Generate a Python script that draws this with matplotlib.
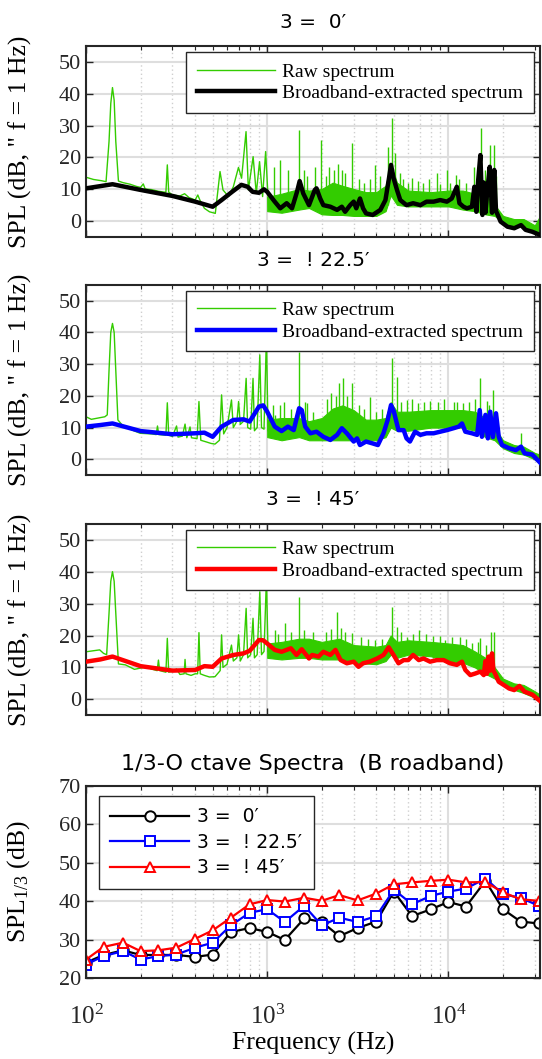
import numpy as np
import matplotlib.pyplot as plt
from matplotlib.ticker import LogLocator, NullFormatter
from matplotlib.lines import Line2D

plt.rcParams['font.family'] = 'Liberation Serif'
plt.rcParams['mathtext.fontset'] = 'custom'
plt.rcParams['mathtext.rm'] = 'Liberation Serif'
plt.rcParams['mathtext.it'] = 'Liberation Serif:italic'

# ---------------- narrowband data, theta = 0 ----------------
raw0_f = [100, 110, 122, 129, 134, 137, 140, 143, 146, 151, 160, 175, 190, 200, 207, 212,
          230, 250, 270, 276, 281, 286, 300, 330, 350, 370, 400, 414, 425, 450, 480, 517,
          549, 570, 612, 650, 694, 722, 764, 787, 836, 870, 907, 943, 980, 1017]
raw0_db = [13.7, 13.0, 12.6, 12.3, 25, 37, 42, 38, 25, 12.5, 12, 11.5, 10.8, 10.5, 11.6, 10,
           9.8, 9.3, 9, 9, 17.6, 9, 8.1, 7.8, 8.5, 7.3, 6.5, 8.1, 6.5, 3.9, 2.8, 2.3,
           15.5, 9.7, 7.6, 10.7, 16.8, 13.4, 28.1, 9.7, 20.2, 8.6, 18.6, 7.6, 21.8, 4.4]
band0_f = [1000, 1200, 1500, 1700, 2000, 2300, 2600, 3000, 3500, 4000, 4500, 4800, 5200,
           6000, 8000, 10000, 12000, 14000, 16000, 18000, 20000, 23000, 26000, 30000, 32000]
band0_lo = [3, 2.5, 3.5, 4, 2, 1.8, 1.8, 1.5, 1.5, 1.5, 3, 8, 5,
            4.5, 4.5, 4.5, 3.5, 3, 2, 1.5, -0.5, -1.8, -1.8, -3.5, -4]
band0_hi = [7.5, 8.5, 10, 9.5, 10, 12, 11, 10, 9, 9, 11, 18, 12,
            9.5, 9, 9.5, 9.5, 8.5, 8, 5, 1.5, 0.5, 0.5, -1.5, 1.5]
spike0_f = [1090, 1180, 1300, 1494, 1590, 1650, 1830, 1980, 2100, 2200, 2350, 2450, 2580,
            2700, 2930, 3200, 3400, 3700, 3950, 4200, 4620, 4870, 5090, 5420, 5600, 6000,
            6300, 6770, 7200, 7800, 8600, 9000, 9800, 10200, 11030, 11500, 12500, 13800,
            14500, 15200, 16000, 16500, 17000, 17900, 18300]
spike0_lo = [5, 4, 4, 8, 6, 5, 6, 6, 4, 4, 4, 4, 5,
             4, 5, 4, 4, 4, 3, 4, 5, 10, 8, 6, 6, 6,
             6, 6, 6, 6, 6, 6, 6, 6, 6, 6, 5, 5,
             4, 5, 4, 4, 4, 4, 3]
spike0_hi = [17, 19, 16, 28.6, 16, 14, 17, 25.4, 14, 17, 16, 18, 16,
             15, 24.4, 13, 12, 13, 17.6, 14, 23.3, 32.3, 21.2, 15, 13, 12,
             13.5, 12.5, 12, 13, 15, 11.5, 16, 12, 14.4, 13, 12, 17,
             13, 29.1, 16, 17, 23.9, 23.9, 14]
bb0_f = [100, 120, 140, 200, 300, 400, 500, 560, 640, 720, 780, 830, 900, 960, 1000, 1100,
         1180, 1280, 1370, 1460, 1510, 1580, 1700, 1830, 1870, 1960, 2040, 2230, 2430, 2580,
         2690, 2870, 3000, 3100, 3250, 3380, 3510, 3820, 4210, 4490, 4680, 4820, 4980, 5200,
         5420, 5870, 6380, 7000, 7570, 8280, 9000, 9800, 10430, 11120, 11500, 12100, 12640,
         13480, 13900, 14250, 14600, 15000, 15400, 15700, 16000, 16350, 16900, 17400, 17900,
         18300, 18550, 19400, 21150, 23060, 25140, 26640, 29000, 32000]
bb0_db = [10.2, 10.9, 11.5, 9.7, 7.8, 6.0, 4.4, 6.5, 9.1, 11.3, 10.7, 9.1, 8.8, 9.9, 9.1, 6.0,
          3.9, 5.5, 3.9, 9.1, 12.5, 8.6, 4.9, 9.7, 10.2, 7.0, 4.9, 4.4, 3.4, 4.4,
          2.8, 4.9, 6.0, 3.9, 7.0, 3.9, 2.3, 1.8, 3.4, 6.5, 12.8, 17.6, 13.4, 9.7,
          6.5, 4.9, 5.5, 4.9, 6.0, 6.0, 6.5, 6.0, 7.0, 10.7, 5.5, 4.4, 3.9,
          4.4, 10.7, 2.8, 13, 20.7, 1.8, 12, 2.5, 9, 17, 2.5, 16,
          3, 2.3, -0.3, -1.9, -2.4, -1.4, -2.9, -3.5, -4.5]

# ---------------- narrowband data, theta = -22.5 ----------------
raw22_f = [100, 107, 119, 127, 131, 134, 137, 140, 143, 146, 150, 160, 180, 199, 230, 244,
           248, 252, 276, 281, 286, 300, 316, 322, 340, 352, 360, 375, 382, 410, 420, 430,
           460, 490, 515, 545, 560, 575, 600, 635, 650, 680, 695, 710, 740, 765, 780, 810,
           835, 850, 880, 910, 930, 960, 990, 1010]
raw22_db = [13.4, 12.6, 13.1, 13.4, 14, 28, 40, 42.8, 40, 28, 12.4, 10.5, 9.2, 8.2, 8, 7.8,
            10.5, 7.8, 7.6, 17.8, 7.6, 7.2, 10.5, 7.0, 7.3, 11.1, 6.8, 10.2, 6.8, 6.5, 18.2, 6,
            5.5, 5, 4.8, 6, 20.3, 8, 10, 18.7, 10, 12, 18.2, 11, 12, 25.5, 10, 9.5,
            25.5, 9, 10, 32.9, 10, 9.5, 39, 9]
band22_f = [1000, 1200, 1500, 1700, 2000, 2300, 2600, 3000, 3500, 4000, 4500, 4800, 5200,
            6000, 8000, 10000, 12000, 14000, 16000, 18000, 20000, 23000, 26000, 30000, 32000]
band22_lo = [7, 6, 7, 6, 6, 6, 6, 6, 6, 6, 7, 10, 9,
             9, 10, 10, 10, 9, 7, 6, 3.5, 2, 1.5, 0, -1.5]
band22_hi = [12.5, 13, 13, 12, 13, 16, 17, 15.5, 12.5, 12.5, 13, 18, 15,
             15, 15.5, 15.5, 15.5, 15, 13, 10, 6, 4.5, 4, 2, 1.5]
spike22_f = [1070, 1100, 1180, 1240, 1350, 1490, 1620, 1650, 1800, 2150, 2250, 2400, 2500,
             2620, 2750, 2930, 3200, 3400, 3680, 4000, 4300, 4870, 5200, 5500, 5870, 6300,
             6770, 7300, 7900, 8800, 9400, 10670, 11200, 12100, 13000, 14000, 15000, 16350,
             16800, 17700, 25100]
spike22_lo = [8, 8, 7, 7, 7, 9, 8, 7, 7, 7, 7, 7, 8,
              8, 7, 8, 7, 7, 7, 7, 7, 12, 10, 10, 10, 10,
              10, 10, 10, 10, 10, 11, 10, 11, 10, 10, 10, 9,
              8, 9, 3]
spike22_hi = [17, 14, 17, 18, 16, 33.9, 18, 17.6, 15, 19, 21, 20, 23.9,
              25.5, 20, 23.9, 17, 16, 19.7, 15, 16, 31.8, 26, 18, 18.7, 19,
              17.6, 18, 18.5, 18, 19, 18.2, 18, 17.6, 18, 19, 25.5, 18.5,
              17, 21.8, 8.2]
bb22_f = [100, 120, 140, 200, 300, 400, 450, 500, 560, 650, 740, 800, 900, 950, 1000, 1100,
          1200, 1300, 1400, 1500, 1550, 1620, 1730, 1870, 2040, 2230, 2430, 2580, 2750, 3000,
          3130, 3250, 3510, 3820, 4080, 4380, 4620, 4820, 5000, 5300, 5660, 5870, 6130, 6540,
          7000, 7570, 8280, 9000, 9800, 10670, 11400, 11880, 12390, 13480, 14400, 14880, 15300,
          16000, 16500, 17000, 17600, 18300, 18950, 19750, 21600, 23560, 25140, 26300, 29000,
          32000]
bb22_db = [10.3, 10.8, 11.3, 8.9, 7.9, 8.2, 8.4, 7.1, 10.3, 12.4, 12.6, 11.9, 16.6, 17, 15.0, 10.3,
           8.9, 10.3, 9.2, 16.1, 15.5, 10.3, 8.2, 8.7, 7.1, 6.1, 7.7, 9.8, 8.2, 5.6,
           6.6, 4.5, 5.6, 5.0, 4.5, 8.2, 12.4, 17.1, 15, 9.2, 9.2, 6.6, 5.6, 8.7,
           7.7, 8.2, 8.2, 8.7, 9.2, 9.8, 10.3, 11.3, 8.7, 8.2, 7.7, 15.5, 7.1,
           14, 6.6, 15, 7, 14.5, 7.1, 4.5, 3.5, 2.9, 4, 1.9, 1.5,
           -1]

# ---------------- narrowband data, theta = -45 ----------------
raw45_f = [100, 119, 125, 130, 134, 137, 140, 143, 146, 151, 165, 185, 200, 216, 230, 247,
           251, 255, 276, 281, 286, 300, 316, 330, 348, 352, 356, 380, 400, 413, 420, 427,
           450, 480, 515, 550, 560, 570, 600, 635, 650, 680, 695, 710, 740, 765, 780, 810,
           835, 850, 880, 910, 930, 960, 990, 1010]
raw45_db = [14.9, 15.5, 14.4, 14, 27, 37, 40, 37, 27, 11.1, 10.8, 9.4, 9.8, 10.2, 9.5, 9,
            12.3, 9, 8.5, 19.1, 8.5, 8.8, 9.5, 7.8, 8, 12.5, 8, 7.5, 8, 8, 20.9, 8,
            7.5, 7, 7.1, 9, 20.2, 10, 11, 17, 12, 13, 20.2, 12, 14, 28.5, 13, 14,
            25.4, 13, 14, 33.7, 14, 15, 38, 15]
band45_f = [1000, 1200, 1500, 1700, 2000, 2500, 3000, 4000, 4500, 4800, 5200, 6000, 8000,
            10000, 12000, 14000, 16000, 18000, 20000, 23000, 26000, 30000, 32000]
band45_lo = [13, 12.5, 13, 13, 12.5, 12.5, 11.5, 11, 12, 14, 13, 14, 13.5,
             12, 11.5, 10, 8, 6.5, 4.5, 3, 2, 0.5, -1]
band45_hi = [17.5, 18, 19, 19, 18, 19, 17, 16.5, 17, 20, 18, 18.5, 18,
             17.5, 17, 15, 13, 10, 6.5, 5, 4.5, 2.5, 1.5]
spike45_f = [1100, 1150, 1250, 1350, 1490, 1590, 1800, 2100, 2250, 2430, 2540, 2700, 2930,
             3300, 3600, 3950, 4300, 4870, 5200, 5500, 5870, 6400, 6860, 7500, 8200, 9000,
             9600, 10500, 11600, 12500, 13500, 14500, 15000, 16200, 17200, 17900]
spike45_lo = [14, 14, 14, 14, 15, 15, 14, 14, 14, 14, 14, 13, 13,
              12, 12, 12, 12, 14, 14, 14, 14, 14, 14, 14, 13, 13,
              13, 12, 12, 12, 11, 10, 10, 9, 9, 9]
spike45_hi = [21.7, 20.5, 23.8, 21, 32.2, 21.7, 21, 21, 22, 27.5, 22.2, 21, 20.7,
              19.5, 19, 18.6, 19, 29, 22.7, 21, 19.6, 20.5, 21.7, 20.5, 20, 20,
              18.6, 19.5, 19.6, 19, 17.5, 18, 19.1, 17, 21.2, 21.2]
bb45_f = [100, 120, 140, 200, 300, 400, 450, 500, 560, 650, 740, 800, 900, 950, 1000, 1100,
          1200, 1350, 1450, 1550, 1700, 1770, 1920, 2040, 2230, 2380, 2540, 2750, 3000, 3190,
          3380, 3680, 4040, 4380, 4680, 4980, 5300, 5660, 6000, 6380, 6860, 7280, 7920, 8620,
          9400, 10200, 11120, 11880, 12390, 13200, 14070, 15000, 15650, 16000, 16300, 16650,
          17000, 17400, 17700, 18100, 18950, 20200, 21600, 23060, 24640, 26300, 29000, 32000]
bb45_db = [11.8, 12.5, 13.4, 10.4, 9.0, 9.2, 10.4, 10.2, 12.8, 13.9, 14.4, 15.2, 18.6, 18.5, 17.5, 15.5,
           14.9, 16, 13.9, 15.7, 12.8, 13.9, 13.4, 14.9, 13.9, 15.5, 12.3, 11.3, 11.8, 10.2,
           11.3, 11.8, 12.8, 13.9, 16.3, 13.9, 11.3, 12.3, 12.3, 13.9, 12.3, 12.8, 11.8, 12.3,
           12.3, 11.3, 10.8, 11.8, 9.2, 7.6, 8.1, 8.7, 7.6, 12, 8, 13.4,
           9, 14.4, 9, 8, 5.5, 4.5, 3.4, 2.9, 4.2, 2.4, 1.5, -0.5]

# ---------------- 1/3-octave broadband levels ----------------
octave_f = [100, 125, 160, 200, 250, 315, 400, 500, 630, 800, 1000, 1250, 1600, 2000,
            2500, 3150, 4000, 5000, 6300, 8000, 10000, 12500, 16000, 20000, 25000, 31500]
spl_0 = [24, 26, 27.2, 26, 26, 26, 25.5, 26.1, 32, 33, 32, 29.9, 35.5, 34.6,
         30.9, 33, 34.7, 42.5, 36.1, 37.9, 39.8, 38.6, 45.3, 37.9, 34.7, 34.2]
spl_22 = [23.5, 25.7, 27, 24.8, 25.7, 26.1, 27.9, 29.2, 33.7, 37, 37.9, 34.6, 38.8, 33.7,
          35.7, 34.6, 36.1, 43, 39.2, 41.4, 42.5, 43.3, 45.9, 41.8, 40.9, 38.8]
spl_45 = [24.8, 28.1, 29.2, 27, 27.2, 27.9, 30.2, 32.4, 35.7, 39.2, 40.3, 39.9, 40.9, 40.1,
          41.6, 40.2, 42, 44.4, 44.9, 45.3, 45.6, 44.9, 45, 42.3, 40.5, 40.1]

titles = ['3 =  0\u2032', '3 =  ! 22.5\u2032', '3 =  ! 45\u2032']
raw_green = '#33cc00'
frame_col = '#262626'

W, H = 542, 1059
fig = plt.figure(figsize=(W / 100, H / 100), dpi=100, facecolor='white')


def axes_px(left, top, right, bottom):
    return fig.add_axes([left / W, 1 - bottom / H, (right - left) / W, (bottom - top) / H])


def style(ax, ylim, yticks):
    ax.set_xscale('log')
    ax.set_xlim(100, 3.2e4)
    ax.set_ylim(*ylim)
    ax.set_yticks(yticks)
    ax.xaxis.set_minor_locator(LogLocator(base=10, subs=np.arange(2, 10)))
    ax.xaxis.set_minor_formatter(NullFormatter())
    ax.grid(True, which='major', color='#dedede', lw=1.5, ls='-')
    ax.grid(True, which='minor', axis='x', color='#cfcfcf', lw=1.0, ls=(0, (1, 2)))
    ax.set_axisbelow(True)
    ax.tick_params(which='both', direction='in', top=True, right=True,
                   color=frame_col, labelsize=16, labelcolor='#262626')
    ax.tick_params(which='major', length=5, width=1.0)
    ax.tick_params(which='minor', length=3, width=0.8)
    for s in ax.spines.values():
        s.set_color(frame_col)
        s.set_linewidth(1.5)


panels = [
    (raw0_f, raw0_db, band0_f, band0_lo, band0_hi, spike0_f, spike0_lo, spike0_hi, bb0_f, bb0_db, 'black'),
    (raw22_f, raw22_db, band22_f, band22_lo, band22_hi, spike22_f, spike22_lo, spike22_hi, bb22_f, bb22_db, '#0000ff'),
    (raw45_f, raw45_db, band45_f, band45_lo, band45_hi, spike45_f, spike45_lo, spike45_hi, bb45_f, bb45_db, '#ff0000'),
]
tops = [46.4, 284.7, 523.8]
bottoms = [236.5, 475.2, 715.3]

for i, (rf, rd, bf, blo, bhi, sf, slo, shi, bbf, bbd, col) in enumerate(panels):
    ax = axes_px(86, tops[i], 540, bottoms[i])
    style(ax, (-5, 55), [0, 10, 20, 30, 40, 50])
    ax.set_xticklabels([])

    # raw narrowband spectrum: trace, dense tonal band and isolated tones
    ax.plot(rf, rd, color=raw_green, lw=1.0, zorder=2)
    ax.fill_between(bf, blo, bhi, color=raw_green, lw=0.8, zorder=2)
    ax.vlines(sf, slo, shi, color=raw_green, lw=1.0, zorder=2)
    # broadband part of the spectrum
    ax.plot(bbf, bbd, color=col, lw=3.2, solid_joinstyle='round', zorder=3)

    ax.set_ylabel('SPL (dB, " f = 1 Hz)', fontsize=18.5)
    ax.yaxis.set_label_coords(-0.118, 0.5)
    ax.text(0.5, 1 + 24 / 190, titles[i], transform=ax.transAxes, ha='center', va='center',
            fontsize=14.5, family='DejaVu Sans')

    handles = [Line2D([], [], color=raw_green, lw=1.0),
               Line2D([], [], color=col, lw=3.2)]
    ax.legend(handles, ['Raw spectrum', 'Broadband-extracted spectrum'],
              loc='upper right', bbox_to_anchor=(1 - 6 / 454, 1 - 6 / 190), borderaxespad=0,
              prop={'family': 'Liberation Serif', 'size': 14}, fancybox=False,
              edgecolor=frame_col, framealpha=1, handlelength=4.0, handletextpad=0.4,
              labelspacing=0.2, borderpad=0.55)

# 1/3-octave band comparison
ax4 = axes_px(86, 786, 540, 978)
style(ax4, (20, 70), [20, 30, 40, 50, 60, 70])
mk = dict(ms=7.5, mew=1.4, mfc='white', lw=1.6)
ax4.plot(octave_f, spl_0, '-o', color='black', label=titles[0], **mk)
ax4.plot(octave_f, spl_22, '-s', color='#0000ff', label=titles[1], **mk)
ax4.plot(octave_f, spl_45, '-^', color='#ff0000', label=titles[2], **mk)
ax4.set_ylabel('SPL$_{\\mathdefault{1/3}}$ (dB)', fontsize=18.5)
ax4.yaxis.set_label_coords(-0.118, 0.5)
ax4.tick_params(axis='x', labelsize=18, pad=19)
ax4.set_xlabel('Frequency (Hz)', fontsize=18.5, labelpad=2)
ax4.text(0.5, 1 + 22 / 192, '1/3-O ctave Spectra  (B roadband)', transform=ax4.transAxes,
         ha='center', va='center', fontsize=16, family='DejaVu Sans')
ax4.legend(loc='upper left', bbox_to_anchor=(13 / 454, 1 - 10 / 192), borderaxespad=0,
           prop={'family': 'DejaVu Sans', 'size': 13.5}, fancybox=False, edgecolor=frame_col,
           framealpha=1, handlelength=4.2, handletextpad=0.45, labelspacing=0.35, borderpad=0.6)

fig.savefig('out.png', dpi=100, facecolor='white')
